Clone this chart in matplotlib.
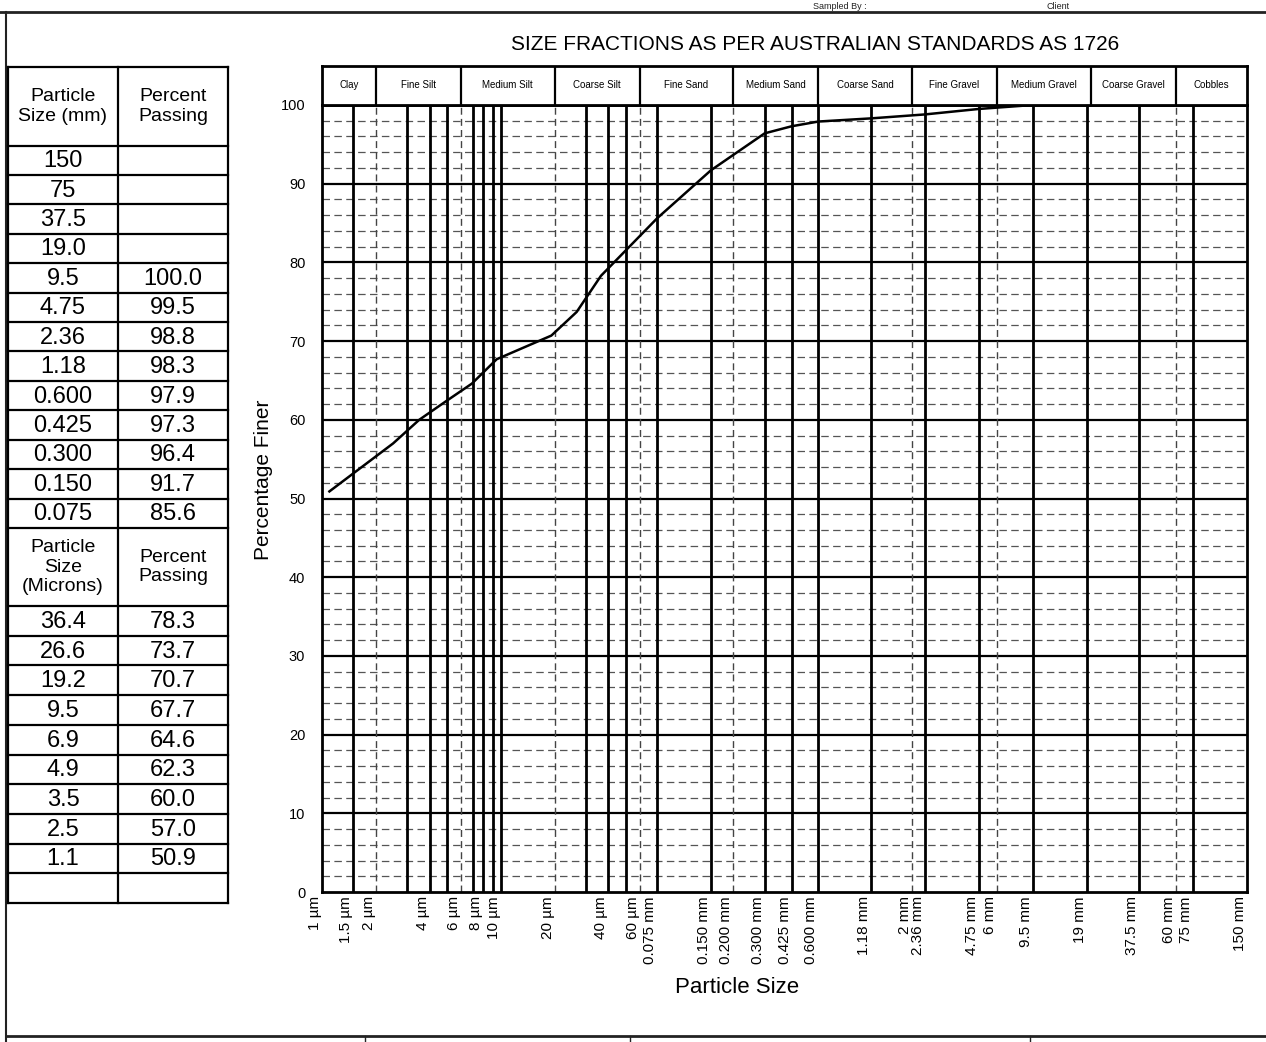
import matplotlib
matplotlib.use("Agg")
import matplotlib.pyplot as plt

plt.rcParams['font.family'] = ['Liberation Sans', 'DejaVu Sans']

# ---------------- data ----------------
sizes_mm_table = ["150", "75", "37.5", "19.0", "9.5", "4.75", "2.36", "1.18",
                  "0.600", "0.425", "0.300", "0.150", "0.075"]
passing_mm_table = ["", "", "", "", "100.0", "99.5", "98.8", "98.3",
                    "97.9", "97.3", "96.4", "91.7", "85.6"]
sizes_um_table = ["36.4", "26.6", "19.2", "9.5", "6.9", "4.9", "3.5", "2.5", "1.1", ""]
passing_um_table = ["78.3", "73.7", "70.7", "67.7", "64.6", "62.3", "60.0", "57.0", "50.9", ""]

solid_lines_mm = [0.0015, 0.003, 0.004, 0.005, 0.007, 0.008, 0.009, 0.010,
                  0.030, 0.040, 0.050, 0.075, 0.150, 0.300, 0.425, 0.600,
                  1.18, 2.36, 4.75, 9.5, 19, 37.5, 75]
dashed_lines_mm = [0.002, 0.006, 0.020, 0.060, 0.200, 2, 6, 60]

tick_vals = [0.001, 0.0015, 0.002, 0.004, 0.006, 0.008, 0.010, 0.020, 0.040,
             0.060, 0.075, 0.150, 0.200, 0.300, 0.425, 0.600, 1.18, 2, 2.36,
             4.75, 6, 9.5, 19, 37.5, 60, 75, 150]
tick_labels = ["1 µm", "1.5 µm", "2 µm", "4 µm", "6 µm", "8 µm", "10 µm",
               "20 µm", "40 µm", "60 µm", "0.075 mm", "0.150 mm", "0.200 mm",
               "0.300 mm", "0.425 mm", "0.600 mm", "1.18 mm", "2 mm", "2.36 mm",
               "4.75 mm", "6 mm", "9.5 mm", "19 mm", "37.5 mm", "60 mm",
               "75 mm", "150 mm"]

fraction_names = ["Clay", "Fine Silt", "Medium Silt", "Coarse Silt", "Fine Sand",
                  "Medium Sand", "Coarse Sand", "Fine Gravel", "Medium Gravel",
                  "Coarse Gravel", "Cobbles"]
fraction_bounds = [0.001, 0.002, 0.006, 0.02, 0.06, 0.2, 0.6, 2, 6, 20, 60, 150]

title = "SIZE FRACTIONS AS PER AUSTRALIAN STANDARDS AS 1726"

# curve points from the table
curve_x = [float(s) for s, p in zip(sizes_mm_table, passing_mm_table) if p] + \
          [float(s) / 1000 for s, p in zip(sizes_um_table, passing_um_table) if p]
curve_y = [float(p) for p in passing_mm_table if p] + [float(p) for p in passing_um_table if p]
order = sorted(range(len(curve_x)), key=lambda i: curve_x[i])
curve_x = [curve_x[i] for i in order]
curve_y = [curve_y[i] for i in order]

# ---------------- figure ----------------
W, H = 1266, 1042
fig = plt.figure(figsize=(W / 100, H / 100), dpi=100)


def fx(px):
    return px / W


def fy(py):
    return 1 - py / H


# background overlay (pixel coordinates) for the form and table
bg = fig.add_axes([0, 0, 1, 1])
bg.set_xlim(0, W)
bg.set_ylim(H, 0)
bg.axis('off')

# page frame
bg.plot([0, W], [11.5, 11.5], color='#222', lw=2)
bg.plot([6, 6], [11.5, H], color='#222', lw=1.5)
bg.plot([6, W], [1036, 1036], color='#222', lw=2)
for bx in [365, 630, 1030]:
    bg.plot([bx, bx], [1036, H], color='#222', lw=1)
bg.text(840, 9, "Sampled By :", ha='center', va='baseline', fontsize=6.5, color='#222')
bg.text(1058, 9, "Client", ha='center', va='baseline', fontsize=6.5, color='#222')

# table
tx0, tx1, tx2 = 8, 118, 228
top1, hdr1_bot = 67, 145.5
row_h1 = (528 - hdr1_bot) / len(sizes_mm_table)
hdr2_bot = 606
row_h2 = (903 - hdr2_bot) / len(sizes_um_table)
lw_t = 1.6
# header 1
bg.plot([tx0, tx2], [top1, top1], color='k', lw=lw_t)
bg.text((tx0 + tx1) / 2, (top1 + hdr1_bot) / 2, "Particle\nSize (mm)", ha='center', va='center', fontsize=14)
bg.text((tx1 + tx2) / 2, (top1 + hdr1_bot) / 2, "Percent\nPassing", ha='center', va='center', fontsize=14)
y = hdr1_bot
bg.plot([tx0, tx2], [y, y], color='k', lw=lw_t)
for s, p in zip(sizes_mm_table, passing_mm_table):
    yc = y + row_h1 / 2
    bg.text((tx0 + tx1) / 2, yc + 1, s, ha='center', va='center', fontsize=17)
    bg.text((tx1 + tx2) / 2, yc + 1, p, ha='center', va='center', fontsize=17)
    y += row_h1
    bg.plot([tx0, tx2], [y, y], color='k', lw=lw_t)
hdr2_top = y
bg.text((tx0 + tx1) / 2, (hdr2_top + hdr2_bot) / 2, "Particle\nSize\n(Microns)", ha='center', va='center', fontsize=14)
bg.text((tx1 + tx2) / 2, (hdr2_top + hdr2_bot) / 2, "Percent\nPassing", ha='center', va='center', fontsize=14)
y = hdr2_bot
bg.plot([tx0, tx2], [y, y], color='k', lw=lw_t)
for s, p in zip(sizes_um_table, passing_um_table):
    yc = y + row_h2 / 2
    bg.text((tx0 + tx1) / 2, yc + 1, s, ha='center', va='center', fontsize=17)
    bg.text((tx1 + tx2) / 2, yc + 1, p, ha='center', va='center', fontsize=17)
    y += row_h2
    bg.plot([tx0, tx2], [y, y], color='k', lw=lw_t)
for xx in [tx0, tx1, tx2]:
    bg.plot([xx, xx], [top1, y], color='k', lw=lw_t)

# title
fig.text(fx(815), fy(45), title, ha='center', va='center', fontsize=15,
         family=['Liberation Sans Narrow', 'Liberation Sans', 'DejaVu Sans'])

# ---------------- main chart ----------------
L, R, T, B = 322, 1247, 105, 892
ax = fig.add_axes([fx(L), fy(B), fx(R) - fx(L), fy(T) - fy(B)])
ax.set_xscale('log')
ax.set_xlim(fraction_bounds[0], fraction_bounds[-1])
ax.set_ylim(0, 100)

for v in range(2, 100, 2):
    if v % 10:
        ax.axhline(v, color='#555', lw=0.9, dashes=(6, 3.5), zorder=1)
for v in range(10, 100, 10):
    ax.axhline(v, color='k', lw=1.6, zorder=2)
for xv in dashed_lines_mm:
    ax.axvline(xv, color='#444', lw=1.0, dashes=(5, 3), zorder=2)
for xv in solid_lines_mm:
    ax.axvline(xv, color='k', lw=2.0, zorder=3)

ax.plot(curve_x, curve_y, color='k', lw=1.8, zorder=5)

for sp in ax.spines.values():
    sp.set_linewidth(2)

ax.set_yticks(range(0, 101, 10))
ax.tick_params(axis='y', length=0, pad=12, labelsize=10.5)
ax.set_xticks(tick_vals)
ax.set_xticklabels(tick_labels, rotation=90, ha='right', va='top', fontsize=11)
ax.xaxis.set_minor_locator(matplotlib.ticker.NullLocator())
ax.tick_params(axis='x', length=0, pad=3)

ax.set_xlabel("Particle Size", fontsize=16)
ax.xaxis.set_label_coords((737 - L) / (R - L), (B - 977) / (B - T))
ax.set_ylabel("Percentage Finer", fontsize=15)
ax.yaxis.set_label_coords((273 - L) / (R - L), (B - 480) / (B - T))

# ---------------- fraction header ----------------
hx = fig.add_axes([fx(L), fy(T), fx(R) - fx(L), fy(66) - fy(T)])
hx.set_xscale('log')
hx.set_xlim(fraction_bounds[0], fraction_bounds[-1])
hx.set_ylim(0, 1)
hx.set_xticks([])
hx.set_yticks([])
hx.xaxis.set_minor_locator(matplotlib.ticker.NullLocator())
for sp in hx.spines.values():
    sp.set_linewidth(2)
for b in fraction_bounds[1:-1]:
    hx.axvline(b, color='k', lw=1.6)
for name, a, b in zip(fraction_names, fraction_bounds[:-1], fraction_bounds[1:]):
    hx.text((a * b) ** 0.5, 0.5, name, ha='center', va='center', fontsize=7)

fig.savefig("out.png", dpi=100)
